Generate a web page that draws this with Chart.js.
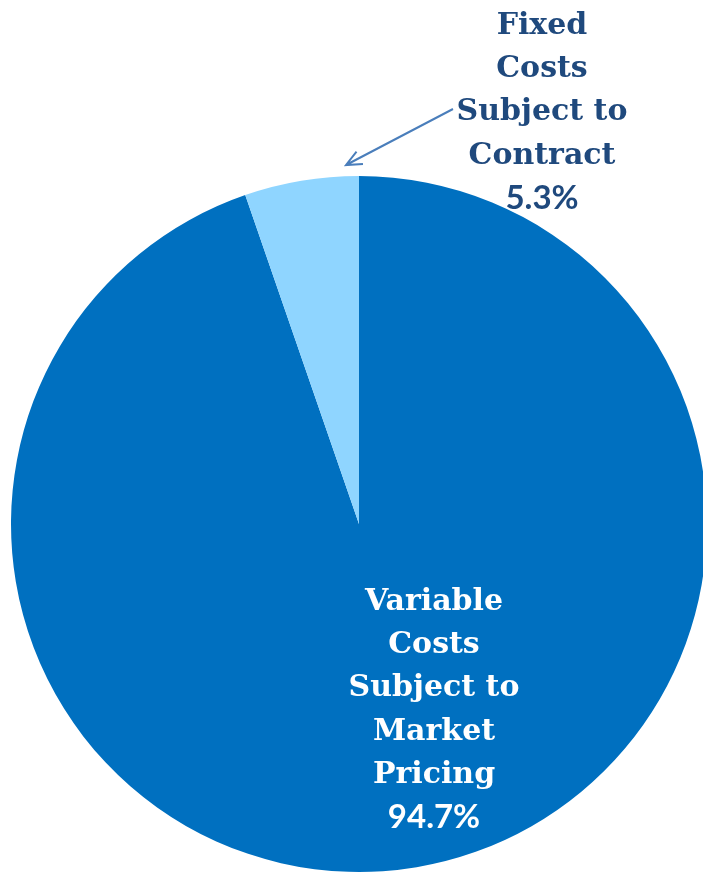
<!DOCTYPE html>
<html>
<head>
<meta charset="utf-8">
<script src="https://cdn.jsdelivr.net/npm/chart.js@4/dist/chart.umd.min.js"></script>
<style>
  html, body { margin: 0; padding: 0; background: #fff; overflow: hidden; }
  #wrap { position: relative; width: 720px; height: 873px; }
</style>
</head>
<body>
<div id="wrap"><canvas id="costChart"></canvas></div>
<script>
// data
const categories = ['Variable Costs Subject to Market Pricing', 'Fixed Costs Subject to Contract'];
const shares = [94.7, 5.3];
const labelLines = [
  ['Variable', 'Costs', 'Subject to', 'Market', 'Pricing'],
  ['Fixed', 'Costs', 'Subject to', 'Contract']
];
const sliceColors = ['#0070C0', '#8FD5FF'];
const textColors = ['#FFFFFF', '#1F497D'];

const serifFont = 'bold 30px "DejaVu Serif"';
const pctFont = 'bold 33px Lato';

// labels placed relative to the pie centre / radius
const labelPlugin = {
  id: 'sliceLabels',
  afterDatasetsDraw(chart) {
    const ctx = chart.ctx;
    const arc = chart.getDatasetMeta(0).data[0];
    const cx = arc.x, cy = arc.y, r = arc.outerRadius;
    // [centre x offset, first line y offset] in radius units
    const spots = [
      [(434 - cx) / r, (602 - cy) / r],
      [(542 - cx) / r, (26 - cy) / r]
    ];
    const lh = 43.3;
    ctx.save();
    ctx.textAlign = 'center';
    ctx.textBaseline = 'middle';
    labelLines.forEach((lines, i) => {
      const x = cx + spots[i][0] * r;
      let y = cy + spots[i][1] * r;
      ctx.fillStyle = textColors[i];
      ctx.font = serifFont;
      lines.forEach(t => { ctx.fillText(t, x, y); y += lh; });
      ctx.font = pctFont;
      ctx.fillText(shares[i].toFixed(1) + '%', x, y - 1);
    });

    // arrow to the small slice
    const x1 = 453, y1 = 109, x2 = 346, y2 = 165;
    ctx.strokeStyle = '#4A7EBB';
    ctx.lineWidth = 2;
    ctx.beginPath();
    ctx.moveTo(x1, y1);
    ctx.lineTo(x2, y2);
    const ang = Math.atan2(y1 - y2, x1 - x2);
    const hl = 17;
    ctx.moveTo(x2 + hl * Math.cos(ang - 0.42), y2 + hl * Math.sin(ang - 0.42));
    ctx.lineTo(x2, y2);
    ctx.lineTo(x2 + hl * Math.cos(ang + 0.42), y2 + hl * Math.sin(ang + 0.42));
    ctx.stroke();
    ctx.restore();
  }
};

new Chart(document.getElementById('costChart'), {
  type: 'pie',
  data: {
    labels: categories,
    datasets: [{
      data: shares,
      backgroundColor: sliceColors,
      borderWidth: 0
    }]
  },
  options: {
    responsive: true,
    maintainAspectRatio: false,
    animation: false,
    layout: { padding: { left: 11, right: 13, top: 176, bottom: 1 } },
    plugins: {
      legend: { display: false },
      tooltip: { enabled: false }
    }
  },
  plugins: [labelPlugin]
});
</script>
</body>
</html>
